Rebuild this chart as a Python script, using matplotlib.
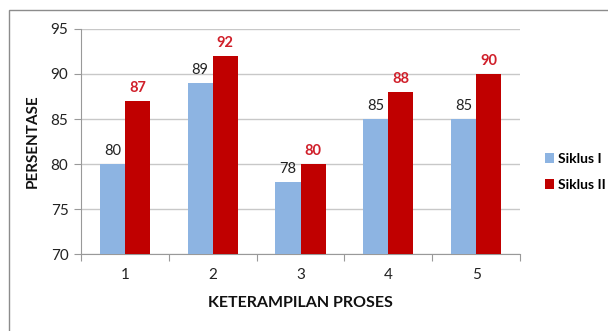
import matplotlib.pyplot as plt
import numpy as np
from matplotlib.patches import Rectangle

plt.rcParams['font.family'] = ['Lato', 'DejaVu Sans']

categories = ['1', '2', '3', '4', '5']
siklus_1 = [80, 89, 78, 85, 85]
siklus_2 = [87, 92, 80, 88, 90]

blue = '#8DB4E2'
red = '#C00000'

fig = plt.figure(figsize=(6.08, 3.31), dpi=100)
ax = fig.add_axes([0.1332, 0.2326, 0.7221, 0.6798])

# outer chart border
fig.patches.append(Rectangle((9 / 608, -0.1), 1.1, 1 - 10 / 331 + 0.1, transform=fig.transFigure,
                             fill=False, edgecolor='#8c8c8c', linewidth=1.0))

x = np.arange(1, len(categories) + 1)
w = 0.285
b1 = ax.bar(x - w / 2, siklus_1, w, color=blue, label='Siklus I', zorder=3)
b2 = ax.bar(x + w / 2, siklus_2, w, color=red, label='Siklus II', zorder=3)

for xi, v in zip(x, siklus_1):
    ax.text(xi - w / 2, v + 0.7, str(v), ha='center', va='bottom', fontsize=10.5, color='#222222')
for xi, v in zip(x, siklus_2):
    ax.text(xi + w / 2, v + 0.7, str(v), ha='center', va='bottom', fontsize=10.5,
            color='#D01F2A', fontweight='bold')

ax.set_ylim(70, 95)
ax.set_xlim(0.5, 5.5)
ax.set_yticks(np.arange(70, 96, 5))
ax.yaxis.grid(True, color='#c8c8c8', linewidth=1.0, zorder=0)
ax.set_axisbelow(True)

ax.set_xticks(np.arange(0.5, 5.6, 1))
ax.set_xticklabels([])
ax.set_xticks(x, minor=True)
ax.set_xticklabels(categories, minor=True)
ax.tick_params(axis='x', which='major', length=5, color='#999999')
ax.tick_params(axis='x', which='minor', length=0, pad=10, labelsize=11, labelcolor='#222222')
ax.tick_params(axis='y', length=5, color='#999999', labelsize=11, labelcolor='#222222', pad=4)

for s in ['top', 'right']:
    ax.spines[s].set_visible(False)
ax.spines['left'].set_color('#999999')
ax.spines['bottom'].set_color('#999999')

ax.set_ylabel('PERSENTASE', fontsize=11, fontweight='bold', labelpad=8, color='#111111')
ax.set_xlabel('KETERAMPILAN PROSES', fontsize=11.5, fontweight='bold', labelpad=10, color='#111111')

leg = fig.legend(handles=[b1, b2], loc='center left', bbox_to_anchor=(0.875, 0.48), frameon=False,
                 fontsize=10, handlelength=0.7, handleheight=0.7, handletextpad=0.3, labelspacing=1.0,
                 prop={'weight': 'bold', 'size': 10})

fig.savefig('out.png', dpi=100)
